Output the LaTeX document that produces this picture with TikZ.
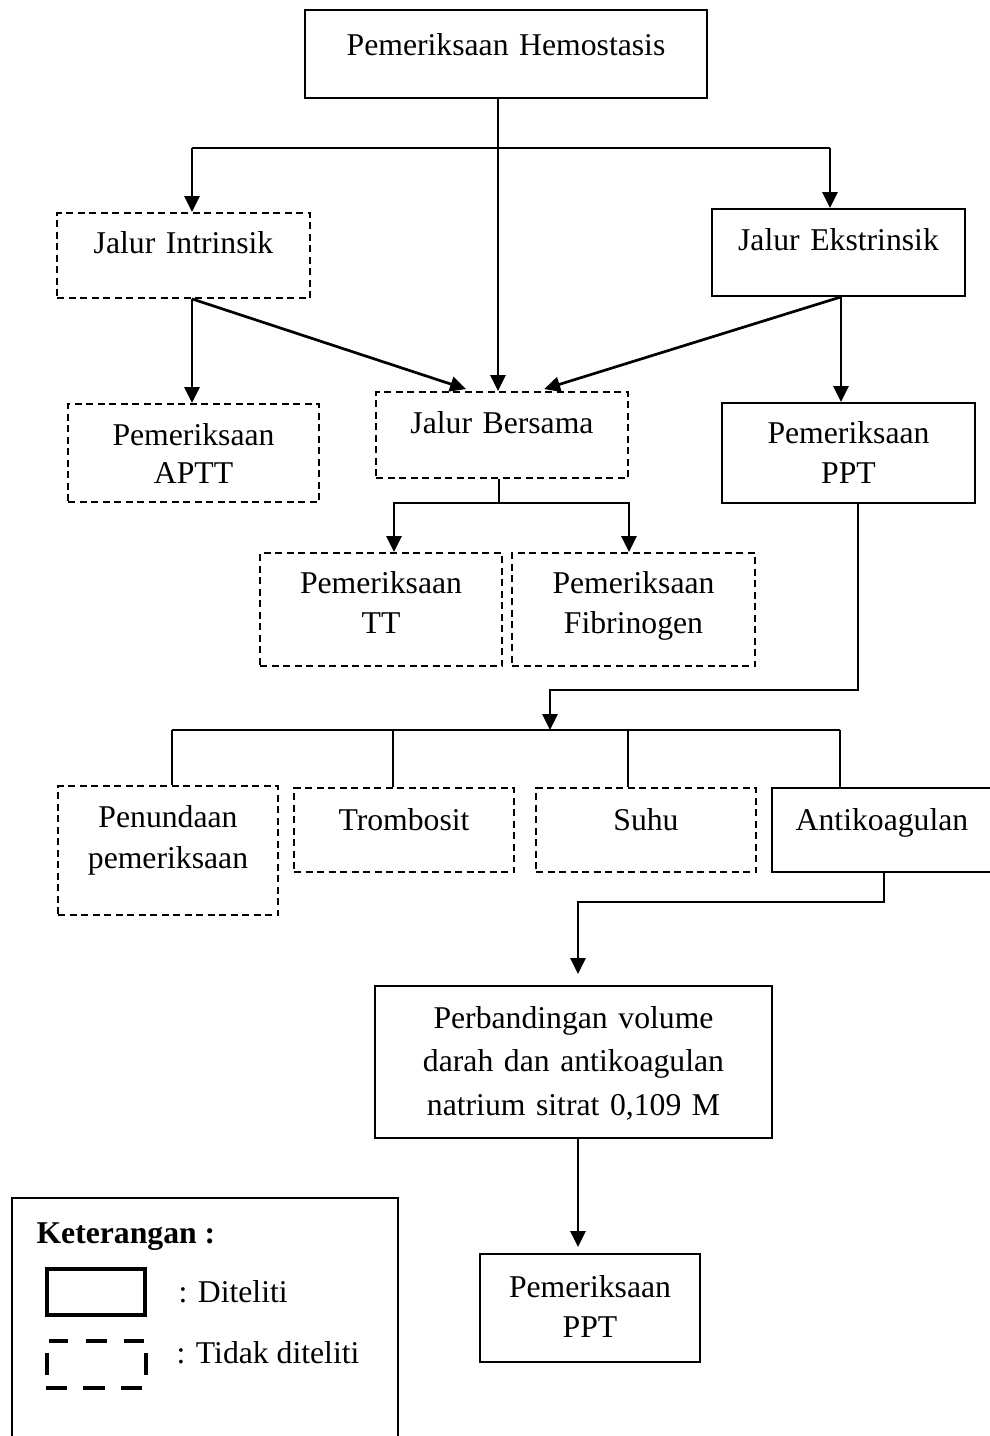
\documentclass[tikz,border=0pt]{standalone}
\usepackage{fontspec}
\setmainfont{Liberation Serif}
\usetikzlibrary{arrows.meta,calc}
\begin{document}
\begin{tikzpicture}[x=1pt,y=-1pt,
  box/.style={draw, line width=1.8pt, rectangle, inner sep=0pt, align=center},
  dbox/.style={box, dash pattern=on 7pt off 4.5pt},
  fs/.style={font=\fontsize{31.7}{#1}\selectfont},
  arr/.style={line width=2.7pt, -{Triangle[length=16pt,width=15pt]}},
  ln/.style={line width=1.6pt},
]
\useasboundingbox (0,0) rectangle (990,1436);
\clip (0,0) rectangle (990,1436);

% boxes
\node[box, fs=40, text width=402pt, text height=45pt, text depth=43pt] (hemo) at (506,54) {Pemeriksaan Hemostasis};
\node[dbox, fs=40, text width=253pt, text height=40pt, text depth=45pt] (intr) at (183.5,255.5) {Jalur Intrinsik};
\node[box, fs=40, text width=253pt, text height=41pt, text depth=46pt] (ekst) at (838.5,252.5) {Jalur Ekstrinsik};
\node[dbox, fs=38, text width=251pt, text height=41pt, text depth=57pt] (aptt) at (193.5,453) {Pemeriksaan\\APTT};
\node[dbox, fs=40, text width=252pt, text height=41pt, text depth=45pt] (bers) at (502,435) {Jalur Bersama};
\node[box, fs=40, text width=253pt, text height=40pt, text depth=60pt] (ppt1) at (848.5,453) {Pemeriksaan\\PPT};
\node[dbox, fs=40, text width=242pt, text height=40pt, text depth=73pt] (tt) at (381,609.5) {Pemeriksaan\\TT};
\node[dbox, fs=40, text width=243pt, text height=40pt, text depth=73pt] (fib) at (633.5,609.5) {Pemeriksaan\\Fibrinogen};
\node[dbox, fs=41, text width=220pt, text height=41pt, text depth=88pt] (pen) at (168,850.5) {Penundaan\\pemeriksaan};
\node[dbox, fs=40, text width=220pt, text height=42pt, text depth=42pt] (trom) at (404,830) {Trombosit};
\node[dbox, fs=40, text width=220pt, text height=42pt, text depth=42pt] (suhu) at (646,830) {Suhu};
\node[box, fs=40, text width=220pt, text height=42pt, text depth=42pt] (anti) at (882,830) {Antikoagulan};
\node[box, fs=43.5, text width=397pt, text height=42pt, text depth=110pt] (perb) at (573.5,1062) {Perbandingan volume\\darah dan antikoagulan\\natrium sitrat 0,109 M};
\node[box, fs=40, text width=220pt, text height=43pt, text depth=65pt] (ppt2) at (590,1308) {Pemeriksaan\\PPT};

% junction points
\coordinate (jL) at (192,148);
\coordinate (jM) at (498,148);
\coordinate (jR) at (830,148);
\coordinate (ek) at (841,300);
\coordinate (bs) at (499,503);
\coordinate (bL) at (394,503);
\coordinate (bR) at (629,503);
\coordinate (pp) at (858,690);
\coordinate (hm) at (550,730);
\coordinate (b1) at (172,730);
\coordinate (b2) at (393,730);
\coordinate (b3) at (628,730);
\coordinate (b4) at (840,730);
\coordinate (ak) at (884,902);
\coordinate (pb) at (578,902);

% connectors
\draw[ln, line width=2pt] (jL) -- (jR);
\draw[arr] (hemo.south -| jM) -- (bers.north -| jM);
\draw[arr] (jL) -- (intr.north -| jL);
\draw[arr] (jR) -- (ekst.north -| jR);
\draw[arr] (intr.south -| jL) -- (aptt.north -| jL);
\draw[arr] (intr.south -| jL) -- ($(bers.north west)+(91,-2)$);
\draw[arr] (ekst.south -| ek) -- (ppt1.north -| ek);
\draw[arr] (ekst.south -| ek) -- ($(bers.north west)+(169,-2)$);
\draw[ln] (bers.south -| bs) -- (bs);
\draw[arr] (bs) -| (tt.north -| bL);
\draw[arr] (bs) -| (fib.north -| bR);
\draw[arr] (ppt1.south -| pp) -- (pp) -| (hm);
\draw[ln] (b1) -- (b4);
\draw[ln] (b1) -- (pen.north -| b1);
\draw[ln] (b2) -- (trom.north -| b2);
\draw[ln] (b3) -- (suhu.north -| b3);
\draw[ln] (b4) -- (anti.north -| b4);
\draw[arr, shorten >=11pt] (anti.south -| ak) -- (ak) -- (pb) -- (perb.north -| pb);
\draw[arr, shorten >=6pt] (perb.south -| pb) -- (ppt2.north -| pb);

% legend
\draw[line width=1.8pt] (12,1198) rectangle (398,1460);
\node[anchor=base west, font=\fontsize{31.7}{38}\selectfont\bfseries] (ket) at (33,1243) {Keterangan :};
\draw[line width=4pt] (47,1269) rectangle (145,1315);
\node[anchor=base west, fs=38] (dit) at (175,1302) {: Diteliti};
\draw[line width=4.5pt] (49,1341)--(68,1341) (86,1341)--(107,1341) (124,1341)--(144,1341)
  (46,1388)--(67,1388) (83,1388)--(105,1388) (121,1388)--(142,1388)
  (47,1353)--(47,1375) (146,1353)--(146,1375);
\node[anchor=base west, fs=38] (tdk) at (173,1363) {: Tidak diteliti};
\end{tikzpicture}
\end{document}
